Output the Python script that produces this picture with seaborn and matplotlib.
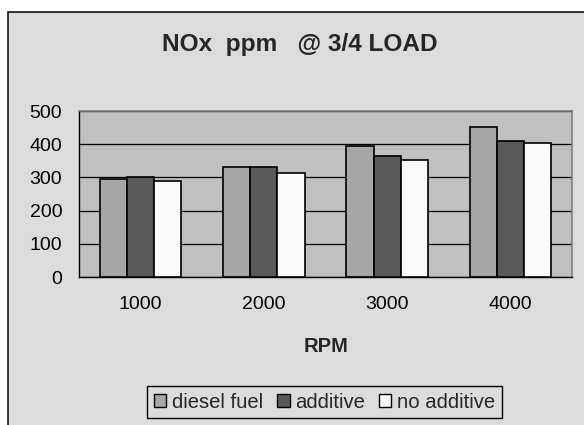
import numpy as np
import pandas as pd
import matplotlib
matplotlib.use("Agg")
import matplotlib.pyplot as plt
from matplotlib.patches import Rectangle
import seaborn as sns

# Data
rpm = ["1000", "2000", "3000", "4000"]
diesel_fuel = [295, 331, 395, 453]
additive = [302, 331, 365, 410]
no_additive = [290, 312, 351, 405]
series_names = ["diesel fuel", "additive", "no additive"]
series_colors = ["#A6A6A6", "#595959", "#FAFAFA"]

df = pd.DataFrame({
    "RPM": rpm * 3,
    "NOx": diesel_fuel + additive + no_additive,
    "fuel": [series_names[0]] * 4 + [series_names[1]] * 4 + [series_names[2]] * 4,
})

sns.set_style("white")
plt.rcParams["font.family"] = ["Liberation Sans", "DejaVu Sans"]

W, H = 584, 425
fig = plt.figure(figsize=(W / 100, H / 100), dpi=100)
fig.patch.set_facecolor("white")

# chart area panel with black border
panel = Rectangle((7.5 / W, -0.05), 1.2, (H - 11.5) / H + 0.05,
                  transform=fig.transFigure, facecolor="#DCDCDC",
                  edgecolor="black", linewidth=1.1, zorder=-10)
fig.patches.append(panel)

left, right, top, bottom = 79, 572, 111, 277
ax = fig.add_axes([left / W, 1 - bottom / H, (right - left) / W, (bottom - top) / H])
ax.set_facecolor("#C0C0C0")

sns.barplot(data=df, x="RPM", y="NOx", hue="fuel", hue_order=series_names,
            palette=series_colors, width=0.663, edgecolor="black",
            linewidth=1.2, saturation=1, ax=ax, legend=False, zorder=3)

ax.set_ylim(0, 500)
ax.set_xlim(-0.5, 3.5)
ax.set_yticks(np.arange(0, 501, 100))
ax.yaxis.grid(True, color="black", linewidth=0.9, zorder=1)
ax.set_axisbelow(True)
ax.set_xlabel("")
ax.set_ylabel("")

ax.set_xticks(range(len(rpm)), rpm)
ax.set_xticks(np.arange(-0.5, len(rpm), 1), minor=True)
ax.tick_params(axis="x", which="major", length=0, pad=13.5, labelsize=14, colors="black")
ax.tick_params(axis="x", which="minor", length=5, width=1, direction="out", color="black")
ax.tick_params(axis="y", length=5, width=1, direction="out", pad=7, labelsize=14, colors="black")

for side in ["left", "bottom"]:
    ax.spines[side].set_color("black")
    ax.spines[side].set_linewidth(1)
for side in ["top", "right"]:
    ax.spines[side].set_visible(True)
    ax.spines[side].set_color("#808080")
    ax.spines[side].set_linewidth(1.2)

fig.text(299.5 / W, 1 - 51 / H, "NOx  ppm   @ 3/4 LOAD", ha="center", va="baseline",
         fontsize=17.6, fontweight="bold")
fig.text(325.8 / W, 1 - 351.7 / H, "RPM", ha="center", va="baseline",
         fontsize=14.5, fontweight="bold")

handles = [Rectangle((0, 0), 1, 1, facecolor=c, edgecolor="black", linewidth=1)
           for c in series_colors]
leg = fig.legend(handles, series_names, loc="center", bbox_to_anchor=(324.5 / W, 1 - 402 / H),
                 ncol=3, fontsize=14.6, frameon=True, fancybox=False, framealpha=1,
                 facecolor="#DCDCDC", edgecolor="black", handlelength=0.6,
                 handleheight=0.6, handletextpad=0.26, columnspacing=0.72,
                 borderpad=0.33, borderaxespad=0)
leg.get_frame().set_linewidth(1)

fig.savefig("out.png", dpi=100)
